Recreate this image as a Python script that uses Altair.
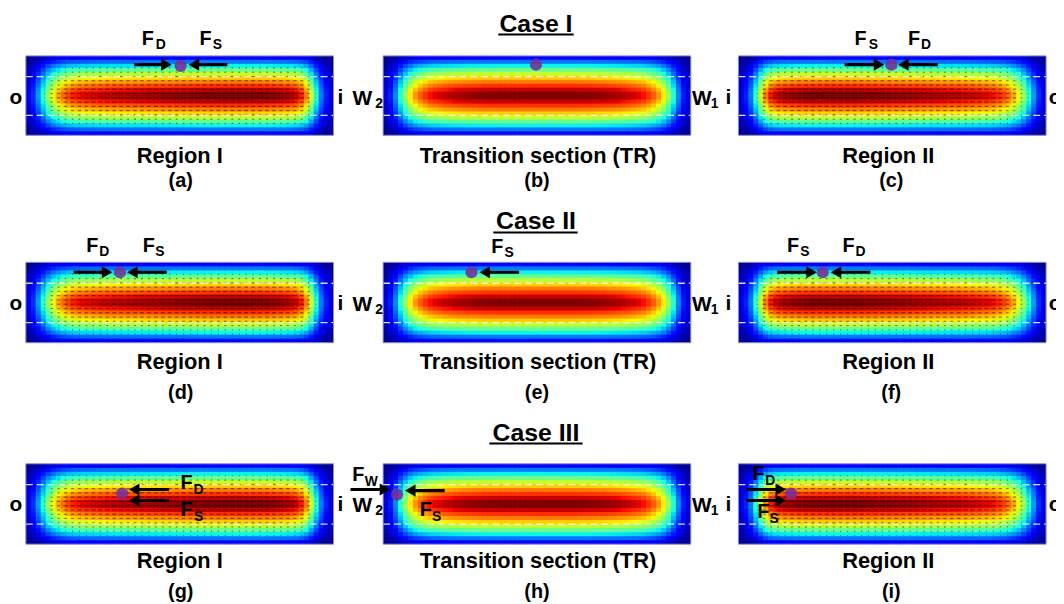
import altair as alt
import pandas as pd

alt.data_transformers.disable_max_rows()

# ---------------- values ----------------
# velocity magnitude profile across the channel depth (top wall -> bottom wall)
Y_PROFILE = [0.13, 0.245, 0.365, 0.48, 0.59, 0.69, 0.78, 0.86, 0.94, 1.0,
             1.0, 0.94, 0.86, 0.78, 0.69, 0.59, 0.48, 0.365, 0.245, 0.13]

# velocity magnitude profile along the channel width (left wall -> right wall)
X_REGION_I = [0.095, 0.17, 0.28, 0.40, 0.53, 0.64, 0.73, 0.79, 0.845, 0.875, 0.895, 0.91,
              0.918, 0.925, 0.932, 0.94, 0.945, 0.95, 0.952, 0.955, 0.958, 0.96, 0.963, 0.966,
              0.969, 0.972, 0.975, 0.978, 0.98, 0.983, 0.985, 0.987, 0.989, 0.991, 0.993, 0.995,
              0.997, 0.998, 1.0, 1.0, 1.0, 1.0, 1.0, 1.0, 1.0, 1.0, 1.0, 0.998,
              0.995, 0.99, 0.985, 0.978, 0.97, 0.96, 0.935, 0.885, 0.78, 0.60, 0.41, 0.25, 0.155, 0.09]

X_TRANSITION = [0.085, 0.15, 0.26, 0.40, 0.54, 0.66, 0.75, 0.81, 0.86, 0.895, 0.915, 0.93,
                0.945, 0.955, 0.965, 0.972, 0.978, 0.984, 0.988, 0.992, 0.995, 0.997, 0.998,
                1.0, 1.0, 1.0, 1.0, 1.0, 1.0, 1.0, 1.0, 1.0, 1.0, 1.0, 1.0, 1.0, 1.0, 1.0, 1.0,
                0.998, 0.997, 0.995, 0.992, 0.988, 0.984, 0.978, 0.972, 0.965, 0.955, 0.945,
                0.93, 0.915, 0.895, 0.86, 0.81, 0.75, 0.66, 0.54, 0.40, 0.26, 0.15, 0.085]

X_REGION_II = [0.09, 0.155, 0.25, 0.41, 0.60, 0.78, 0.885, 0.935, 0.96, 0.97, 0.978, 0.985, 0.99, 0.995,
               0.998, 1.0, 1.0, 1.0, 1.0, 1.0, 1.0, 1.0, 1.0, 1.0, 0.998, 0.997,
               0.995, 0.993, 0.991, 0.989, 0.987, 0.985, 0.983, 0.98, 0.978, 0.975, 0.972, 0.969,
               0.966, 0.963, 0.96, 0.958, 0.955, 0.952, 0.95, 0.945, 0.94, 0.932, 0.925, 0.918,
               0.91, 0.895, 0.875, 0.845, 0.79, 0.73, 0.64, 0.53, 0.40, 0.28, 0.17, 0.095]

PANEL_IDS = ["a", "b", "c", "d", "e", "f", "g", "h", "i"]
PANEL_KIND = ["I", "TR", "II", "I", "TR", "II", "I", "TR", "II"]
CAPTIONS = ["Region I", "Transition section (TR)", "Region II"]
CASE_TITLES = ["Case I", "Case II", "Case III"]

# particle position inside each panel (fraction of width, fraction of depth from top)
PARTICLE_X = [0.503, 0.497, 0.497, 0.306, 0.287, 0.274, 0.313, 0.045, 0.171]
PARTICLE_Y = [0.125, 0.11, 0.11, 0.123, 0.123, 0.123, 0.37, 0.383, 0.37]

# force arrows (fractions of the panel)
ARROW_PANEL = ["a", "a", "c", "c", "d", "d", "e", "f", "f", "g", "g", "h", "h", "i", "i"]
ARROW_X_FROM = [0.352, 0.655, 0.345, 0.648, 0.155, 0.458, 0.442, 0.126, 0.429,
                0.465, 0.465, -0.106, 0.20, 0.026, 0.026]
ARROW_X_TO = [0.474, 0.529, 0.474, 0.519, 0.281, 0.329, 0.313, 0.255, 0.30,
              0.335, 0.335, 0.023, 0.071, 0.155, 0.155]
ARROW_Y = [0.11, 0.11, 0.11, 0.11, 0.123, 0.123, 0.123, 0.123, 0.123,
           0.32, 0.457, 0.32, 0.333, 0.32, 0.457]

DASH_LEVELS = [0.26, 0.75]

# jet colour map
JET_STOPS = [0.0, 0.11, 0.125, 0.35, 0.375, 0.64, 0.66, 0.89, 0.91, 1.0]
JET_COLORS = ["#000080", "#0000ff", "#0000ff", "#00e5f7", "#14ffe2",
              "#eeff08", "#ffec00", "#ff1300", "#e80000", "#800000"]

# ---------------- layout (page pixels) ----------------
MARGIN = 8
CHART_W, CHART_H = 1056, 596
COL_LEFT = [26, 386, 744]
ROW_TOP = [54, 262, 465]
ROW_H = [80, 81, 81]
PANEL_W = 310
SIDE_Y = [97, 305, 508]
CAPTION_Y = [155, 362.5, 563.5]
LETTER_Y = [180, 394, 594]
CAPTION_X = [181, 542, 895]
LETTER_X = [182, 541, 898]
TITLE_Y = [22, 220, 434.5]
UNDERLINE = [(502, 578, 32.5), (497, 582, 232), (493, 587, 444.5)]

PROFILES = {"I": X_REGION_I, "TR": X_TRANSITION, "II": X_REGION_II}


def panel_box(p):
    r, c = divmod(p, 3)
    return COL_LEFT[c] - MARGIN, ROW_TOP[r] - MARGIN, PANEL_W, ROW_H[r]


heat_rows, quiver_rows, dash_rows, box_rows, part_rows = [], [], [], [], []
for p, pid in enumerate(PANEL_IDS):
    x0, y0, w, h = panel_box(p)
    xp = PROFILES[PANEL_KIND[p]]
    nx, ny = len(xp), len(Y_PROFILE)
    cw, ch = w / nx, h / ny
    for i, fx in enumerate(xp):
        for j, gy in enumerate(Y_PROFILE):
            heat_rows.append({
                "x": x0 + i * cw, "x2": min(x0 + (i + 1) * cw + 0.7, x0 + w),
                "y": y0 + j * ch, "y2": min(y0 + (j + 1) * ch + 0.7, y0 + h),
                "v": fx * gy})
    if PANEL_KIND[p] != "TR":
        qy = 3.5
        while qy < h - 2:
            qx = 5.0
            while qx < w - 3:
                v = xp[int(qx / cw)] * Y_PROFILE[int(qy / ch)]
                L = 6.0 * v * v
                quiver_rows.append({"x": x0 + qx - L / 2, "x2": x0 + qx + L / 2, "y": y0 + qy})
                qx += 7.0
            qy += 4.3
    for lv in DASH_LEVELS:
        dash_rows.append({"x": x0, "x2": x0 + w, "y": y0 + lv * h})
    box_rows.append({"x": x0, "x2": x0 + w, "y": y0, "y2": y0 + h})
    part_rows.append({"x": x0 + PARTICLE_X[p] * w, "y": y0 + PARTICLE_Y[p] * h})

shaft_rows, head_rows = [], []
for k, pid in enumerate(ARROW_PANEL):
    x0, y0, w, h = panel_box(PANEL_IDS.index(pid))
    xa = x0 + ARROW_X_FROM[k] * w
    xb = x0 + ARROW_X_TO[k] * w
    yy = y0 + ARROW_Y[k] * h
    d = 1 if xb > xa else -1
    shaft_rows.append({"x": xa, "x2": xb - 8 * d, "y": yy})
    head_rows.append({"x": xb - 5.3 * d, "y": yy,
                      "shape": "triangle-right" if d > 0 else "triangle-left"})

texts = []


def T(t, x, y, s):
    texts.append({"t": t, "x": x - MARGIN, "y": y - MARGIN, "s": s})


# force labels
for (f, sub, fxp, fyp, sxp, syp) in [
    ("F", "D", 149, 37, 162, 43), ("F", "S", 207, 37, 219, 43),
    ("F", "S", 867, 37, 880, 43), ("F", "D", 921, 37, 933, 43),
    ("F", "D", 93, 246, 105, 252), ("F", "S", 150, 246, 161, 252),
    ("F", "S", 501, 247, 513, 253),
    ("F", "S", 799, 246, 811, 252), ("F", "D", 855, 246, 867, 252),
    ("F", "D", 188, 484, 200, 491), ("F", "S", 188, 512, 200, 519),
    ("F", "W", 361, 476, 374, 483), ("F", "S", 429, 512, 440, 519),
    ("F", "D", 764, 475, 776, 482), ("F", "S", 769, 514, 780, 521),
]:
    T(f, fxp, fyp, 20)
    T(sub, sxp, syp, 14)

for r in range(3):
    y = SIDE_Y[r]
    T("o", 16, y - 1, 21)
    T("i", 343, y - 1, 21)
    T("W", 365, y, 21)
    T("2", 382, y + 5, 14)
    T("W", 707, y, 21)
    T("1", 720, y + 5, 14)
    T("i", 734, y - 1, 21)
    T("o", 1063, y - 1, 21)
    for c in range(3):
        T(CAPTIONS[c], CAPTION_X[c], CAPTION_Y[r], 22)
        T("(" + PANEL_IDS[3 * r + c] + ")", LETTER_X[c], LETTER_Y[r], 20)
    T(CASE_TITLES[r], 540, TITLE_Y[r], 25)

under_rows = [{"x": a - MARGIN, "x2": b - MARGIN, "y": y - MARGIN} for a, b, y in UNDERLINE]

# ---------------- chart ----------------
xs = alt.Scale(domain=[0, CHART_W], nice=False, zero=False)
ys = alt.Scale(domain=[0, CHART_H], nice=False, zero=False, reverse=True)
X = alt.X("x:Q", scale=xs, axis=None)
Y = alt.Y("y:Q", scale=ys, axis=None)

heat = alt.Chart(pd.DataFrame(heat_rows)).mark_rect(strokeWidth=0).encode(
    x=X, x2="x2:Q", y=Y, y2="y2:Q",
    color=alt.Color("v:Q", scale=alt.Scale(domain=JET_STOPS, range=JET_COLORS,
                                           interpolate="rgb", clamp=True), legend=None))

quiver = alt.Chart(pd.DataFrame(quiver_rows)).mark_rule(
    color="black", strokeWidth=1.1, opacity=0.5).encode(x=X, x2="x2:Q", y=Y)

dashes = alt.Chart(pd.DataFrame(dash_rows)).mark_rule(
    color="#f2f2f2", strokeWidth=1.3, strokeDash=[7, 4], opacity=0.9).encode(x=X, x2="x2:Q", y=Y)

boxes = alt.Chart(pd.DataFrame(box_rows)).mark_rect(
    fill=None, stroke="#8c8cc8", strokeWidth=1).encode(x=X, x2="x2:Q", y=Y, y2="y2:Q")

particles = alt.Chart(pd.DataFrame(part_rows)).mark_circle(
    size=150, color="#762e98", opacity=0.88).encode(x=X, y=Y)

shafts = alt.Chart(pd.DataFrame(shaft_rows)).mark_rule(
    color="black", strokeWidth=3.2).encode(x=X, x2="x2:Q", y=Y)

heads = alt.Chart(pd.DataFrame(head_rows)).mark_point(
    filled=True, color="black", size=150, opacity=1).encode(
    x=X, y=Y, shape=alt.Shape("shape:N", scale=None))

labels = alt.Chart(pd.DataFrame(texts)).mark_text(
    font="Liberation Sans", fontWeight="bold", align="center", baseline="middle",
    color="black").encode(x=X, y=Y, text="t:N", size=alt.Size("s:Q", scale=None))

underlines = alt.Chart(pd.DataFrame(under_rows)).mark_rule(
    color="black", strokeWidth=2).encode(x=X, x2="x2:Q", y=Y)

chart = alt.layer(heat, quiver, dashes, boxes, particles, shafts, heads, labels, underlines).properties(
    width=CHART_W, height=CHART_H, padding=0,
    autosize=alt.AutoSizeParams(type="none"),
    background="white",
).configure_view(stroke=None)

chart.save("out.html", embed_options={"renderer": "svg", "actions": False})
